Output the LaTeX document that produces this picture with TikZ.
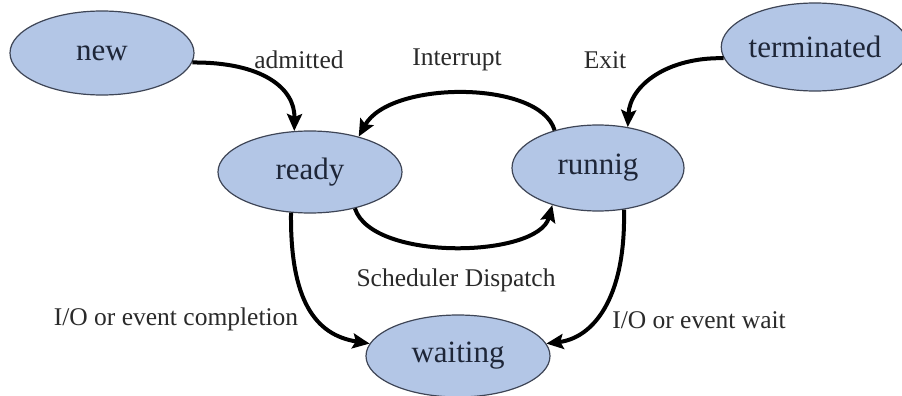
\documentclass[tikz,border=0pt]{standalone}
\usepackage{fontspec}
\setmainfont{Liberation Serif}
\usetikzlibrary{shapes.geometric,arrows.meta}
\definecolor{nodefill}{HTML}{B3C6E6}
\definecolor{nodeline}{HTML}{3E4556}
\definecolor{nodetext}{HTML}{1E2638}
\definecolor{labeltext}{HTML}{2A2A2A}
\tikzset{
  state/.style={ellipse, draw=nodeline, line width=1.2pt, fill=nodefill, inner sep=0pt,
    text=nodetext, font=\fontsize{31}{36}\selectfont},
  lbl/.style={text=labeltext, font=\fontsize{25.5}{30}\selectfont, inner sep=0pt},
  arr/.style={line width=4pt, black, -{Stealth[length=17pt,width=15pt,inset=3pt]}}
}
\begin{document}
\begin{tikzpicture}[x=1pt,y=-1pt]
\useasboundingbox (0,0) rectangle (902,396);
\fill[white] (0,0) rectangle (902,396);
\node[state, minimum width=184pt, minimum height=84pt] (new) at (102,53) {new};
\node[state, minimum width=172pt, minimum height=88pt] (term) at (815,47) {terminated};
\node[state, minimum width=184pt, minimum height=82pt] (ready) at (310,172) {ready};
\node[state, minimum width=172pt, minimum height=86pt] (run) at (598,168) {runnig};
\node[state, minimum width=184pt, minimum height=82pt] (wait) at (458,356) {waiting};

\node[lbl] (ladm) at (299,60) {admitted};
\node[lbl] (lint) at (457,60) {Interrupt};
\node[lbl] (lexit) at (605,60) {Exit};
\node[lbl] (lsch) at (456,280) {Scheduler Dispatch};
\node[lbl] (lcomp) at (176,319) {I/O or event completion};
\node[lbl] (lwait) at (699,320) {I/O or event wait};

\draw[arr] (new.-6) .. controls (262,62) and (295,88) .. (ready.111);
\draw[arr] (term.-173) .. controls (668,57) and (630,85) .. (run.54);
\draw[arr] (run.139) .. controls (540,80) and (390,80) .. (ready.36);
\draw[arr] (ready.-39) .. controls (372,262) and (538,258) .. (run.-141);
\draw[arr] (ready.-115) .. controls (290,300) and (315,335) .. (wait.172);
\draw[arr] (run.-58) .. controls (626,300) and (592,338) .. (wait.8);
\end{tikzpicture}
\end{document}
